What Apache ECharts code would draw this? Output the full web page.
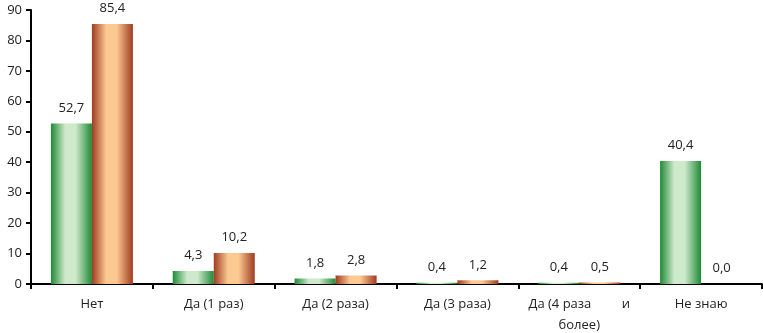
<!DOCTYPE html>
<html>
<head>
<meta charset="utf-8">
<script src="https://cdn.jsdelivr.net/npm/echarts@6/dist/echarts.min.js"></script>
<style>
  html, body { margin: 0; padding: 0; background: #fff; }
  #chart { width: 763px; height: 333px; }
</style>
</head>
<body>
<div id="chart"></div>
<script>
// категории и значения (%)
const categories = ["Нет", "Да (1 раз)", "Да (2 раза)", "Да (3 раза)", "Да (4 раза         и\nболее)", "Не знаю"];
const greenValues = [52.7, 4.3, 1.8, 0.4, 0.4, 40.4];
const orangeValues = [85.4, 10.2, 2.8, 1.2, 0.5, 0.0];
const yTicks = [0, 10, 20, 30, 40, 50, 60, 70, 80, 90];

const font = "'Open Sans', 'Liberation Sans', sans-serif";

const grad = (edge, mid) => new echarts.graphic.LinearGradient(0, 0, 1, 0, [
  { offset: 0, color: edge },
  { offset: 0.35, color: mid },
  { offset: 0.6, color: mid },
  { offset: 1, color: edge },
]);

const chart = echarts.init(document.getElementById("chart"));

const labelOpt = {
  show: true,
  position: "top",
  distance: 9,
  fontFamily: font,
  fontSize: 13,
  color: "#222",
  formatter: (p) => p.value.toFixed(1).replace(".", ","),
};

chart.setOption({
  animation: false,
  grid: { left: 31, right: 1, top: 10, bottom: 49, outerBoundsMode: "none" },
  xAxis: {
    type: "category",
    data: categories,
    axisLine: { lineStyle: { color: "#000", width: 2 } },
    axisTick: { show: true, length: 5, lineStyle: { color: "#000", width: 2 } },
    axisLabel: { fontFamily: font, fontSize: 13, color: "#222", margin: 10, lineHeight: 21, interval: 0 },
  },
  yAxis: {
    type: "value",
    min: yTicks[0],
    max: yTicks[yTicks.length - 1],
    interval: 10,
    axisLine: { show: true, lineStyle: { color: "#000", width: 2 } },
    axisTick: { show: true, length: 5, lineStyle: { color: "#000", width: 2 } },
    splitLine: { show: false },
    axisLabel: { fontFamily: font, fontSize: 13, color: "#222", margin: 9 },
  },
  series: [
    {
      type: "bar",
      data: greenValues,
      barWidth: 41,
      barGap: "0%",
      itemStyle: { color: grad("#1f8a36", "#cfe9cb") },
      label: labelOpt,
    },
    {
      type: "bar",
      data: orangeValues,
      barWidth: 41,
      itemStyle: { color: grad("#9e3b22", "#fdc993") },
      label: labelOpt,
    },
  ],
});
</script>
</body>
</html>
